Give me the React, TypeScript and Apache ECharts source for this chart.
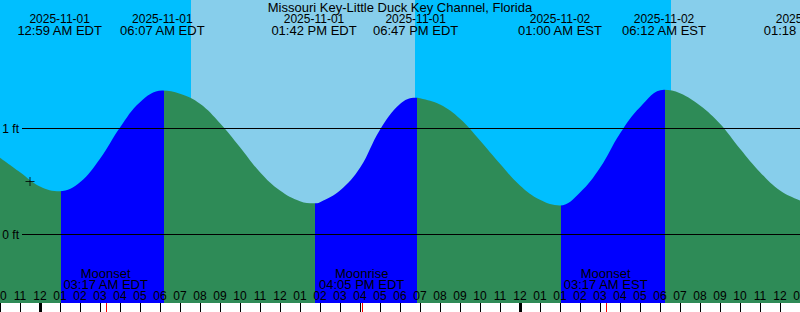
import { useEffect, useRef } from 'react';
import * as echarts from 'echarts';

// All times are hours after 2025-11-01 00:00 EDT (elapsed time, DST change included)
const stationName = 'Missouri Key-Little Duck Key Channel, Florida';

// Tide curve (feet)
const tideHours = [-2, -1, 0, 0.983, 2, 3, 4, 5, 6.117, 7, 8, 9, 10, 11, 12, 13, 13.7, 14, 15, 16, 17, 18, 18.783, 19, 20, 21, 22, 23, 24, 25, 26, 27, 28, 29, 30, 31.2, 32, 33, 34, 35, 36, 37, 38, 38.3];
const tideFeet = [0.724, 0.588, 0.453, 0.408, 0.493, 0.714, 1.009, 1.248, 1.358, 1.327, 1.233, 1.05, 0.824, 0.588, 0.415, 0.314, 0.294, 0.305, 0.415, 0.629, 0.988, 1.231, 1.29, 1.286, 1.226, 1.092, 0.887, 0.667, 0.462, 0.327, 0.274, 0.396, 0.629, 0.953, 1.201, 1.365, 1.333, 1.217, 1.044, 0.808, 0.588, 0.415, 0.321, 0.31];

// High / low tide events
const tideEventHours = [0.983, 6.117, 13.7, 18.783, 26, 31.2, 38.3];
const tideEventDates = ['2025-11-01', '2025-11-01', '2025-11-01', '2025-11-01', '2025-11-02', '2025-11-02', '2025-11-02'];
const tideEventTimes = ['12:59 AM EDT', '06:07 AM EDT', '01:42 PM EDT', '06:47 PM EDT', '01:00 AM EST', '06:12 AM EST', '01:18 PM EST'];

// Rising (flood) intervals: low -> high
const risingStarts = [0.983, 13.7, 26];
const risingEnds = [6.117, 18.783, 31.2];

// Day / night periods
const periodStarts = [-2, 7.55, 18.75, 31.55];
const periodEnds = [7.55, 18.75, 31.55, 38];
const periodIsDay = [false, true, false, true];

// Moon events
const moonHours = [3.283, 16.083, 28.283];
const moonNames = ['Moonset', 'Moonrise', 'Moonset'];
const moonTimes = ['03:17 AM EDT', '04:05 PM EDT', '03:17 AM EST'];

// Midnights
const midnightHours = [0, 24];

// Hour tick labels from -2 to 38
const hourLabels = ['10', '11', '12', '01', '02', '03', '04', '05', '06', '07', '08', '09', '10', '11', '12', '01', '02', '03', '04', '05', '06', '07', '08', '09', '10', '11', '12', '01', '01', '02', '03', '04', '05', '06', '07', '08', '09', '10', '11', '12', '01'];

// Depth reference lines
const depthLevels = [1, 0];
const depthLabels = ['1 ft', '0 ft'];

// "Now" marker
const nowMarker = [[-0.5, 0.5]];

const FONT = '"Liberation Sans", Arial, sans-serif';
const NIGHT = '#00bfff';
const DAY = '#87ceeb';
const FLOOD = '#0000ff';
const EBB = '#2e8b57';
const Y_MAX = 234.5 / 106;
const Y_MIN = (234.5 - 303) / 106;
const COLOR_LAG = 0.06; // the reference switches fill colour one pixel after each extreme

export default function App() {
  const ref = useRef<HTMLDivElement>(null);
  useEffect(() => {
    const chart = echarts.init(ref.current!, null, { renderer: 'svg' });
    const option: any = {
      animation: false,
      title: {
        text: stationName,
        left: 'center',
        top: 1,
        padding: 0,
        textStyle: { fontSize: 13, fontWeight: 'normal', color: '#000', fontFamily: FONT, lineHeight: 12 },
      },
      grid: { left: 0, right: 0, top: 0, bottom: 9, containLabel: false, outerBoundsMode: 'none' },
      xAxis: {
        type: 'value',
        min: -2,
        max: 38,
        interval: 1,
        z: 10,
        axisLine: { show: false, onZero: false },
        splitLine: { show: false },
        axisTick: { show: true, inside: false, length: 9, lineStyle: { color: '#000', width: 1 } },
        axisLabel: {
          inside: true,
          margin: 1,
          color: '#000',
          fontSize: 12,
          fontFamily: FONT,
          showMinLabel: true,
          showMaxLabel: true,
          hideOverlap: false,
          formatter: (v: number) => hourLabels[Math.round(v) + 2] ?? '',
        },
      },
      yAxis: { type: 'value', min: Y_MIN, max: Y_MAX, show: false },
      visualMap: {
        show: false,
        type: 'piecewise',
        dimension: 0,
        seriesIndex: 0,
        pieces: risingStarts.map((s, i) => ({ gte: s + COLOR_LAG, lt: risingEnds[i] + COLOR_LAG, color: FLOOD })),
        outOfRange: { color: EBB },
      },
      series: [
        {
          type: 'line',
          z: 2,
          data: tideHours.map((h, i) => [h, tideFeet[i]]),
          smooth: 0.4,
          showSymbol: false,
          symbol: 'none',
          lineStyle: { width: 0 },
          areaStyle: { opacity: 1, origin: 'start' },
          silent: true,
        },
        {
          type: 'custom',
          z: 1,
          clip: true,
          silent: true,
          encode: { x: [0, 1] },
          data: periodStarts.map((s, i) => [s, periodEnds[i]]),
          renderItem: (params: any, api: any) => {
            const p0 = api.coord([api.value(0), Y_MAX]);
            const p1 = api.coord([api.value(1), Y_MIN]);
            return {
              type: 'rect',
              shape: { x: p0[0], y: p0[1], width: p1[0] - p0[0], height: p1[1] - p0[1] },
              style: { fill: periodIsDay[params.dataIndex] ? DAY : NIGHT },
            };
          },
        },
        {
          type: 'scatter',
          z: 6,
          silent: true,
          data: nowMarker,
          symbol: 'path://M4.5,0V9M0,4.5H9',
          symbolSize: 9,
          itemStyle: { color: 'transparent', borderColor: '#000', borderWidth: 1 },
          markLine: {
            silent: true,
            symbol: 'none',
            lineStyle: { color: '#000', width: 1, type: 'solid' },
            label: { show: true, position: 'start', formatter: '{b}', color: '#000', fontSize: 12, fontFamily: FONT, distance: 3 },
            data: depthLevels.map((d, i) => [{ coord: [-0.9, d], name: depthLabels[i] }, { coord: [38, d] }]),
          },
        },
        {
          type: 'custom',
          z: 10,
          silent: true,
          encode: { x: 0 },
          data: tideEventHours.map((h) => [h]),
          renderItem: (params: any, api: any) => {
            const x = api.coord([api.value(0), 0])[0];
            const i = params.dataIndex;
            return {
              type: 'group',
              children: [
                {
                  type: 'text',
                  x,
                  y: 13.1,
                  style: {
                    text: tideEventDates[i],
                    fill: '#000',
                    fontSize: 12,
                    fontFamily: FONT,
                    align: 'center',
                    verticalAlign: 'top',
                    lineHeight: 12,
                  },
                },
                {
                  type: 'text',
                  x,
                  y: 24.8,
                  style: {
                    text: tideEventTimes[i],
                    fill: '#000',
                    fontSize: 13,
                    fontFamily: FONT,
                    align: 'center',
                    verticalAlign: 'top',
                    lineHeight: 12,
                  },
                },
              ],
            };
          },
        },
        {
          type: 'custom',
          z: 10,
          silent: true,
          encode: { x: 0 },
          data: moonHours.map((h) => [h]),
          renderItem: (params: any, api: any) => {
            const x = api.coord([api.value(0), 0])[0];
            const i = params.dataIndex;
            return {
              type: 'group',
              children: [
                {
                  type: 'text',
                  x,
                  y: 268.3,
                  style: {
                    text: moonNames[i] + '\n' + moonTimes[i],
                    fill: '#000',
                    fontSize: 13,
                    fontFamily: FONT,
                    align: 'center',
                    verticalAlign: 'top',
                    lineHeight: 11,
                  },
                },
                {
                  type: 'rect',
                  shape: { x: Math.round(x), y: 303, width: 1, height: 9 },
                  style: { fill: '#ff0000' },
                },
              ],
            };
          },
        },
        {
          type: 'custom',
          z: 11,
          silent: true,
          encode: { x: 0 },
          data: midnightHours.map((h) => [h]),
          renderItem: (params: any, api: any) => {
            const x = api.coord([api.value(0), 0])[0];
            return {
              type: 'rect',
              shape: { x: Math.round(x) - 1, y: 303, width: 3, height: 9 },
              style: { fill: '#000' },
            };
          },
        },
      ],
    };
    chart.setOption(option);
    return () => chart.dispose();
  }, []);
  return (
    <div
      ref={ref}
      style={{ position: 'fixed', left: 0, top: 0, width: 800, height: 312, background: '#fff' }}
    />
  );
}
